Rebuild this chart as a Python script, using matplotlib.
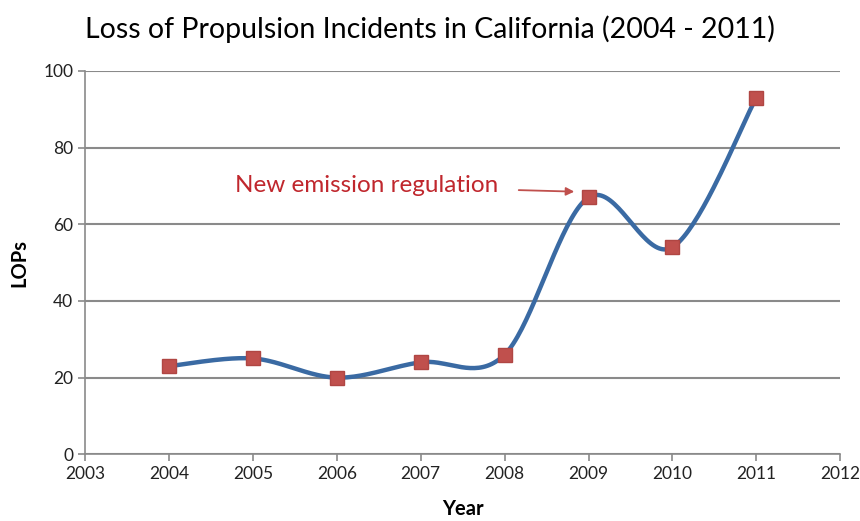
import numpy as np
import matplotlib.pyplot as plt

years = [2004, 2005, 2006, 2007, 2008, 2009, 2010, 2011]
lops = [23, 25, 20, 24, 26, 67, 54, 93]


def smooth(x, y, n=40):
    # Catmull-Rom style smoothing, like the spreadsheet "smoothed line"
    x = np.asarray(x, float)
    y = np.asarray(y, float)
    px = np.concatenate([[x[0]], x, [x[-1]]])
    py = np.concatenate([[y[0]], y, [y[-1]]])
    xs, ys = [], []
    t = np.linspace(0, 1, n)
    for i in range(1, len(px) - 2):
        p0, p1, p2, p3 = (np.array([px[j], py[j]]) for j in range(i - 1, i + 3))
        c1 = p1 + (p2 - p0) / 6
        c2 = p2 - (p3 - p1) / 6
        b = ((1 - t) ** 3)[:, None] * p1 + (3 * (1 - t) ** 2 * t)[:, None] * c1 \
            + (3 * (1 - t) * t ** 2)[:, None] * c2 + (t ** 3)[:, None] * p2
        xs.append(b[:, 0])
        ys.append(b[:, 1])
    return np.concatenate(xs), np.concatenate(ys)


plt.rcParams['font.family'] = ['Lato', 'DejaVu Sans']

fig = plt.figure(figsize=(8.6, 5.21), dpi=100, facecolor='w')
ax = fig.add_axes([0.099, 0.128, 0.878, 0.736])

sx, sy = smooth(years, lops)
ax.plot(sx, sy, color='#3a6aa3', lw=3.2, zorder=3, solid_capstyle='round')
ax.plot(years, lops, linestyle='none', marker='s', markersize=10.5,
        markerfacecolor='#c0504d', markeredgecolor='#b04643', zorder=4)

ax.set_xlim(2003, 2012)
ax.set_ylim(0, 100)
ax.set_xticks(range(2003, 2013))
ax.set_yticks(range(0, 101, 20))
ax.yaxis.grid(True, color='#8a8a8a', lw=1.5)
ax.set_axisbelow(True)
for s in ['top', 'right']:
    ax.spines[s].set_visible(False)
for s in ['left', 'bottom']:
    ax.spines[s].set_color('#8a8a8a')
    ax.spines[s].set_linewidth(1.2)
ax.tick_params(axis='both', colors='#8a8a8a', labelcolor='#222222',
               labelsize=12.5, length=5, width=1.2)

ax.set_xlabel('Year', fontsize=14.5, fontweight='bold', labelpad=12)
ax.set_ylabel('LOPs', fontsize=14.5, fontweight='bold', labelpad=10)
fig.suptitle('Loss of Propulsion Incidents in California (2004 - 2011)',
             fontsize=20.5, x=0.5, y=0.97)

ax.annotate('New emission regulation', xy=(2008.83, 68.5), xytext=(2007.92, 70),
            color='#c0272d', fontsize=17.5, ha='right', va='center',
            arrowprops=dict(arrowstyle='-|>', color='#c0504d', lw=1.3,
                            shrinkA=13, shrinkB=0, mutation_scale=12))

plt.savefig('out.png', dpi=100)
